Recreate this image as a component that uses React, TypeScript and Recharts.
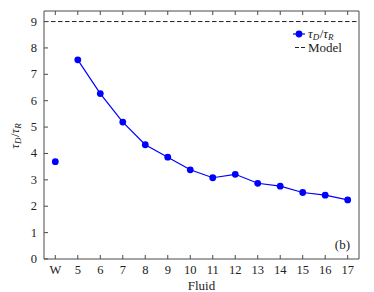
import React from "react";
import { LineChart, Line, XAxis, YAxis, ReferenceLine } from "recharts";

const fluids = ["W", "5", "6", "7", "8", "9", "10", "11", "12", "13", "14", "15", "16", "17"];
const ratioValues = [null, 7.55, 6.27, 5.19, 4.33, 3.86, 3.38, 3.08, 3.21, 2.87, 2.76, 2.52, 2.42, 2.24];
const waterValues = [3.69, null, null, null, null, null, null, null, null, null, null, null, null, null];
const yTicks = [0, 1, 2, 3, 4, 5, 6, 7, 8, 9];
const modelValue = 9;

const data = fluids.map((f, i) => ({ fluid: f, ratio: ratioValues[i], water: waterValues[i] }));

const BLUE = "#0000ff";
const FRAME = "#4a4a4a";
const FONT = "'Liberation Serif', serif";

const BottomTick = (props: any) => {
  const { x, y, payload } = props;
  return (
    <g>
      <line x1={x} y1={y} x2={x} y2={y - 4} stroke={FRAME} />
      <text x={x} y={y + 15} textAnchor="middle" fontSize={12.5} fontFamily={FONT} fill="#222">
        {payload.value}
      </text>
    </g>
  );
};

const TopTick = (props: any) => {
  const { x, y } = props;
  return <line x1={x} y1={y} x2={x} y2={y + 4} stroke={FRAME} />;
};

const LeftTick = (props: any) => {
  const { x, y, payload } = props;
  return (
    <g>
      <line x1={x} y1={y} x2={x + 4} y2={y} stroke={FRAME} />
      <text x={x - 7} y={y + 4} textAnchor="end" fontSize={12.5} fontFamily={FONT} fill="#222">
        {payload.value}
      </text>
    </g>
  );
};

const RightTick = (props: any) => {
  const { x, y } = props;
  return <line x1={x} y1={y} x2={x - 4} y2={y} stroke={FRAME} />;
};

const pad = { left: 11.3, right: 11.3 };

// tau_D / tau_R with subscripts
const TauRatio = ({ sub = 2 }: { sub?: number }) => (
  <>
    <tspan fontStyle="italic">τ</tspan>
    <tspan fontStyle="italic" fontSize={9} dy={sub}>D</tspan>
    <tspan dy={-sub} dx={0.5}>/</tspan>
    <tspan fontStyle="italic">τ</tspan>
    <tspan fontStyle="italic" fontSize={9} dy={sub}>R</tspan>
  </>
);

export default function App() {
  return (
    <div style={{ position: "absolute", left: 0, top: 0, width: 374, height: 292, background: "#fff" }}>
      <LineChart width={374} height={292} data={data} margin={{ top: 10, right: 14, left: 0, bottom: 0 }}>
        <XAxis
          dataKey="fluid"
          xAxisId="bottom"
          height={33}
          padding={pad}
          tickSize={0}
          tickMargin={0}
          tickLine={false}
          interval={0}
          stroke={FRAME}
          tick={<BottomTick />}
        />
        <XAxis
          dataKey="fluid"
          xAxisId="top"
          orientation="top"
          height={1}
          padding={pad}
          tickSize={0}
          tickMargin={0}
          tickLine={false}
          interval={0}
          stroke={FRAME}
          tick={<TopTick />}
        />
        <YAxis
          yAxisId="left"
          width={44}
          domain={[0, 9.4]}
          ticks={yTicks}
          tickSize={0}
          tickMargin={0}
          tickLine={false}
          interval={0}
          stroke={FRAME}
          tick={<LeftTick />}
        />
        <YAxis
          yAxisId="right"
          orientation="right"
          width={1}
          domain={[0, 9.4]}
          ticks={yTicks}
          tickSize={0}
          tickMargin={0}
          tickLine={false}
          interval={0}
          stroke={FRAME}
          tick={<RightTick />}
        />
        <ReferenceLine
          y={modelValue}
          xAxisId="bottom"
          yAxisId="left"
          stroke="#222"
          strokeDasharray="4.5 2.5"
          ifOverflow="extendDomain"
        />
        <Line
          dataKey="ratio"
          xAxisId="bottom"
          yAxisId="left"
          stroke={BLUE}
          strokeWidth={1.2}
          dot={{ r: 3.4, fill: BLUE, stroke: BLUE, strokeWidth: 0 }}
          isAnimationActive={false}
        />
        <Line
          dataKey="water"
          xAxisId="bottom"
          yAxisId="left"
          stroke="none"
          dot={{ r: 3.4, fill: BLUE, stroke: BLUE, strokeWidth: 0 }}
          isAnimationActive={false}
        />
      </LineChart>
      <svg width={374} height={292} style={{ position: "absolute", left: 0, top: 0, pointerEvents: "none" }}>
        <g transform="translate(291,26)">
          <line x1={2} y1={8} x2={14} y2={8} stroke={BLUE} strokeWidth={1.2} />
          <circle cx={8} cy={8} r={3.4} fill={BLUE} />
          <text x={17} y={12} fontSize={13} fontFamily={FONT} fill="#222">
            <TauRatio sub={1.5} />
          </text>
          <line x1={4} y1={21.5} x2={14} y2={21.5} stroke="#222" strokeDasharray="4 2" />
          <text x={17} y={26} fontSize={13} fontFamily={FONT} fill="#222">Model</text>
        </g>
        <text transform="translate(19,136) rotate(-90)" textAnchor="middle" fontSize={13} fontFamily={FONT} fill="#222">
          <TauRatio />
        </text>
        <text x={201.5} y={290} textAnchor="middle" fontSize={13} fontFamily={FONT} fill="#222">Fluid</text>
        <text x={350} y={249} textAnchor="end" fontSize={13} fontFamily={FONT} fill="#222">(b)</text>
      </svg>
    </div>
  );
}
